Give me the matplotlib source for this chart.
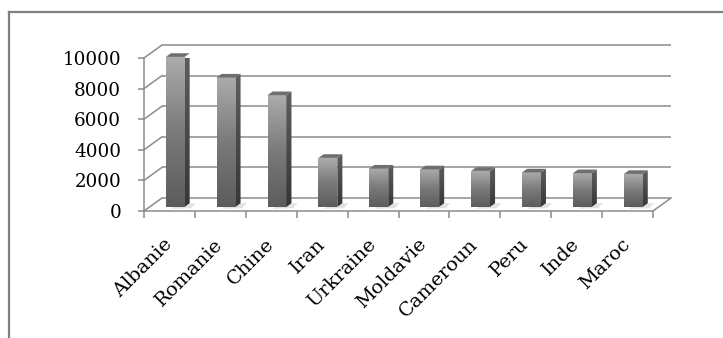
import numpy as np
import matplotlib
matplotlib.use("Agg")
import matplotlib.pyplot as plt
from matplotlib.patches import Polygon
from matplotlib.colors import LinearSegmentedColormap
from matplotlib.lines import Line2D

# données
pays = ['Albanie', 'Romanie', 'Chine', 'Iran', 'Urkraine', 'Moldavie',
        'Cameroun', 'Peru', 'Inde', 'Maroc']
valeurs = [9800, 8450, 7300, 3200, 2500, 2450, 2350, 2250, 2200, 2150]
graduations = [0, 2000, 4000, 6000, 8000, 10000]

W, H = 723, 338
fig = plt.figure(figsize=(W / 100, H / 100), dpi=100)
ax = fig.add_axes([144 / W, 1 - 211 / H, (653 - 144) / W, (211 - 58) / H])
n = len(pays)
ax.set_xlim(-0.5, n - 0.5)
ax.set_ylim(0, 10000)

# profondeur "3D" (en pixels -> unités de données)
px_x = (653 - 144) / n
px_y = (211 - 58) / 10000
dxd = 18 / px_x
dyd = 13 / px_y

gris = '#8c8c8c'
lw = 1.1

# mur du fond + grille
for v in graduations:
    ax.plot([-0.5 + dxd, n - 0.5 + dxd], [v + dyd, v + dyd], color=gris, lw=lw,
            clip_on=False, zorder=1, solid_capstyle='butt')
    ax.plot([-0.5, -0.5 + dxd], [v, v + dyd], color=gris, lw=lw, clip_on=False, zorder=1)
# bord droit du sol
ax.plot([n - 0.5, n - 0.5 + dxd], [0, dyd], color=gris, lw=lw, clip_on=False, zorder=1)

# dégradés
cm_face = LinearSegmentedColormap.from_list('face', ['#5c5c5c', '#7a7a7a', '#ababab'])
cm_cote = LinearSegmentedColormap.from_list('cote', ['#363636', '#4a4a4a', '#5e5e5e'])
grad = np.linspace(0, 1, 128).reshape(-1, 1)

larg = 0.37
f0, f1 = 0.32, 0.6

for i, v in enumerate(valeurs):
    x0 = i - larg / 2 + f0 * dxd
    y0 = f0 * dyd
    ddx = (f1 - f0) * dxd
    ddy = (f1 - f0) * dyd

    # ombre sur le sol
    ombre = Polygon([(x0 + larg * 0.3, y0 - 0.15 * dyd), (x0 + larg + 1.3 * ddx, y0 - 0.1 * dyd),
                     (x0 + larg + 2.2 * ddx, y0 + ddy), (x0 + larg * 0.6, y0 + ddy)],
                    closed=True, facecolor='#d6d6d6', edgecolor='none', alpha=0.7,
                    clip_on=False, zorder=2)
    ax.add_patch(ombre)

    # face avant
    im = ax.imshow(grad, extent=(x0, x0 + larg, y0, y0 + v), origin='lower',
                   cmap=cm_face, aspect='auto', interpolation='bilinear', zorder=3)
    im.set_clip_on(False)

    # côté droit
    cote = Polygon([(x0 + larg, y0), (x0 + larg + ddx, y0 + ddy),
                    (x0 + larg + ddx, y0 + v + ddy), (x0 + larg, y0 + v)],
                   closed=True, facecolor='none', edgecolor='none', transform=ax.transData)
    ax.add_patch(cote)
    im2 = ax.imshow(grad, extent=(x0 + larg, x0 + larg + ddx, y0, y0 + v + ddy),
                    origin='lower', cmap=cm_cote, aspect='auto',
                    interpolation='bilinear', zorder=3)
    im2.set_clip_path(cote)

    # dessus
    ax.add_patch(Polygon([(x0, y0 + v), (x0 + larg, y0 + v),
                          (x0 + larg + ddx, y0 + v + ddy), (x0 + ddx, y0 + v + ddy)],
                         closed=True, facecolor='#6f6f6f', edgecolor='none',
                         clip_on=False, zorder=4))

ax.set_xlim(-0.5, n - 0.5)
ax.set_ylim(0, 10000)
ax.set_facecolor('none')

for s in ['top', 'right']:
    ax.spines[s].set_visible(False)
for s in ['left', 'bottom']:
    ax.spines[s].set_color(gris)
    ax.spines[s].set_linewidth(lw)

police = 'DejaVu Serif'
ax.set_yticks(graduations)
ax.set_yticklabels([str(g) for g in graduations], family=police, fontsize=13.2)
ax.tick_params(axis='y', length=4.5, width=lw, color=gris, pad=12)

ax.set_xticks(np.arange(n + 1) - 0.5)
ax.set_xticklabels([])
ax.tick_params(axis='x', which='major', length=5, width=lw, color=gris)
ax.set_xticks(np.arange(n), minor=True)
ax.set_xticklabels(pays, minor=True, rotation=45, ha='right', va='center',
                   rotation_mode='anchor', family=police, fontsize=14)
ax.tick_params(axis='x', which='minor', length=0, pad=22)

# cadre du graphique
fig.add_artist(Line2D([9 / W, 9 / W], [0, 1 - 12 / H], color='#808080', lw=1.6,
                      transform=fig.transFigure))
fig.add_artist(Line2D([9 / W, 1], [1 - 12 / H, 1 - 12 / H], color='#808080', lw=1.6,
                      transform=fig.transFigure))

fig.savefig('out.png', dpi=100)
